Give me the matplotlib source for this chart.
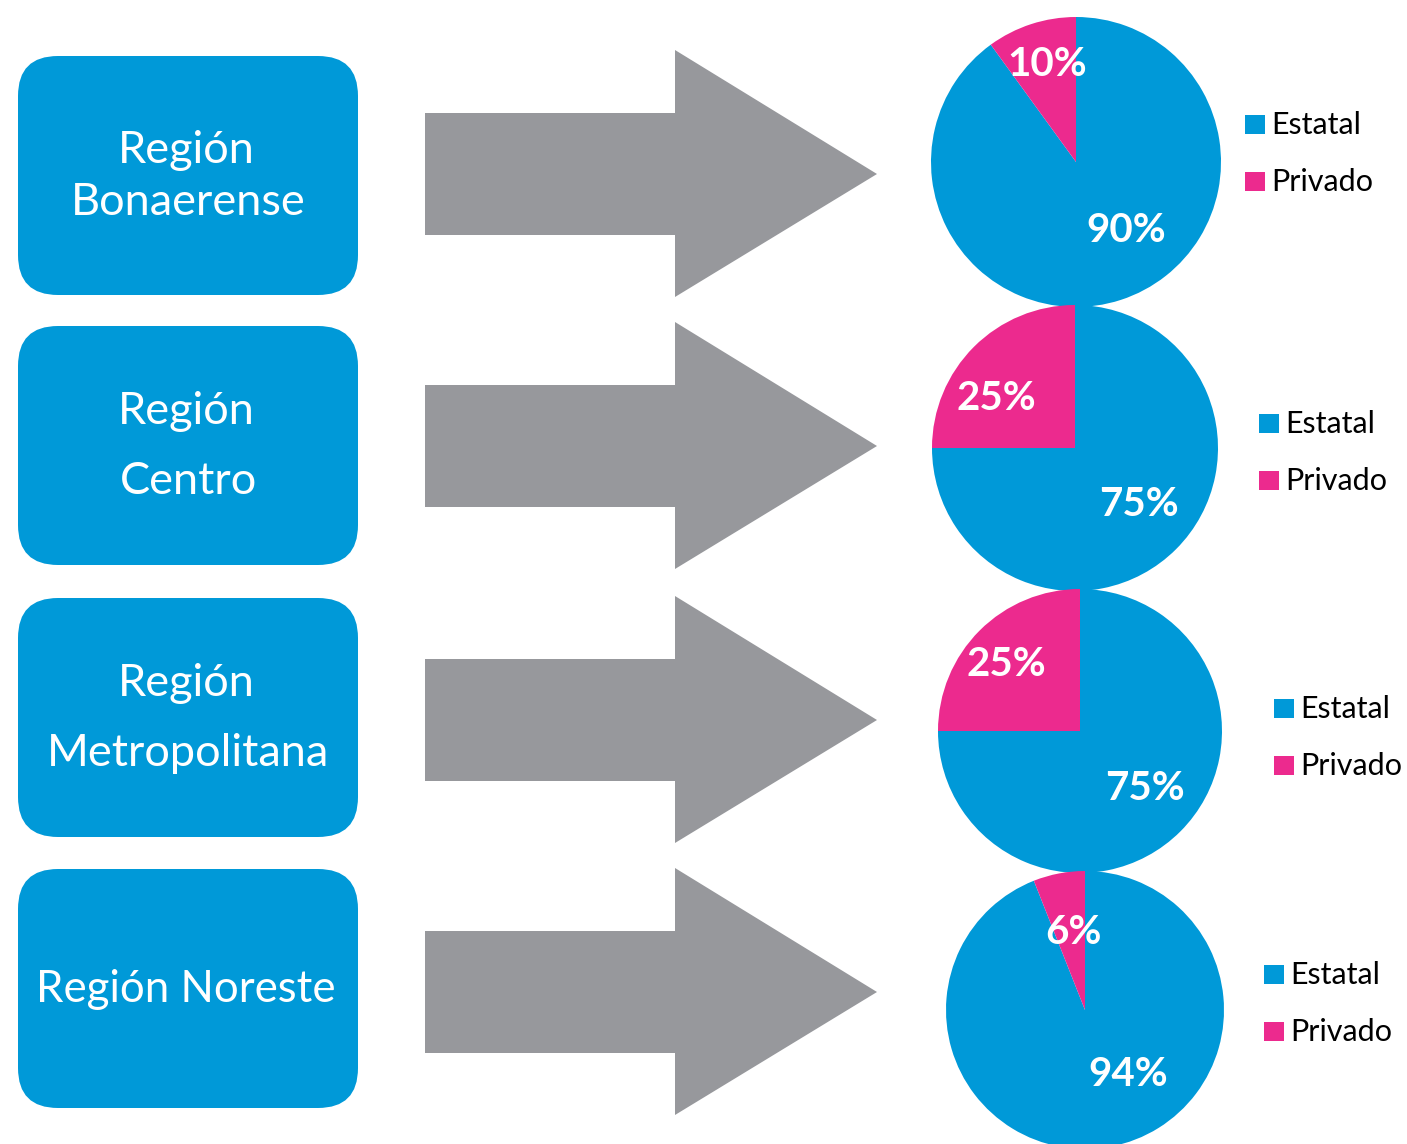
import matplotlib.pyplot as plt
from matplotlib.patches import FancyBboxPatch, Polygon, Rectangle

# Data
regiones = ["Región\nBonaerense", "Región\nCentro", "Región\nMetropolitana", "Región Noreste"]
categorias = ["Estatal", "Privado"]
estatal = [90, 75, 75, 94]
privado = [10, 25, 25, 6]

AZUL = "#0099D8"
ROSA = "#EC2A8E"
GRIS = "#97989C"

plt.rcParams['font.family'] = ['Lato', 'DejaVu Sans']

W, H = 1407, 1144
fig = plt.figure(figsize=(W / 100, H / 100), dpi=100)
ax = fig.add_axes([0, 0, 1, 1])

def fy(y):
    # image pixel row -> axes y
    return H - y

# layout per row (image pixel coords)
box_top = [56, 326, 598, 869]
box_h = 239
line_gap = [52, 71, 71, 0]
arrow_mid = [174, 446, 720, 992]
pie_cx = [1076, 1075, 1080, 1085]
pie_cy = [162, 448, 731, 1010]
pie_r = [145, 143, 142, 139]
lbl_priv = [(1047, 65), (996, 398), (1006, 664), (1073, 933)]
lbl_est = [(1126, 231), (1139, 504), (1145, 788), (1128, 1075)]
leg_x = [1245, 1259, 1274, 1264]
leg_y = [125, 424, 709, 975]

for i in range(4):
    # rounded box
    top = box_top[i]
    rr = 40
    box = FancyBboxPatch((18 + rr, fy(top + box_h) + rr), 340 - 2 * rr, box_h - 2 * rr,
                         boxstyle=f"round,pad={rr}", fc=AZUL, ec="none")
    ax.add_patch(box)
    cy = top + box_h / 2 - 2
    lines = regiones[i].split("\n")
    if len(lines) == 1:
        ax.text(186, fy(cy + 3), lines[0], color="white", fontsize=31.5,
                ha="center", va="center")
    else:
        g = line_gap[i]
        ax.text(186, fy(cy - g / 2 + 3), lines[0], color="white", fontsize=32.5,
                ha="center", va="center")
        ax.text(188, fy(cy + g / 2 + 3), lines[1], color="white", fontsize=32.5,
                ha="center", va="center")

    # arrow
    m = arrow_mid[i]
    pts = [(425, m - 61), (675, m - 61), (675, m - 124), (877, m),
           (675, m + 123), (675, m + 61), (425, m + 61)]
    ax.add_patch(Polygon([(x, fy(y)) for x, y in pts], closed=True,
                         fc=GRIS, ec="none"))

    # pie
    ax.pie([estatal[i], privado[i]], colors=[AZUL, ROSA], startangle=90,
           counterclock=False, center=(pie_cx[i], fy(pie_cy[i])),
           radius=pie_r[i], frame=True,
           wedgeprops=dict(linewidth=0))
    ax.text(lbl_priv[i][0], fy(lbl_priv[i][1]), f"{privado[i]}%", color="white",
            fontsize=29, fontweight="bold", ha="center", va="center")
    ax.text(lbl_est[i][0], fy(lbl_est[i][1]), f"{estatal[i]}%", color="white",
            fontsize=29, fontweight="bold", ha="center", va="center")

    # legend
    for k, (cat, col) in enumerate(zip(categorias, [AZUL, ROSA])):
        yy = leg_y[i] + k * 57
        ax.add_patch(Rectangle((leg_x[i], fy(yy + 9)), 20, 19, fc=col, ec="none"))
        ax.text(leg_x[i] + 26, fy(yy), cat, color="black", fontsize=22,
                ha="left", va="center")

ax.set_xlim(0, W)
ax.set_ylim(0, H)
ax.set_aspect('auto')
ax.axis('off')

fig.savefig("out.png", dpi=100, facecolor="white")
